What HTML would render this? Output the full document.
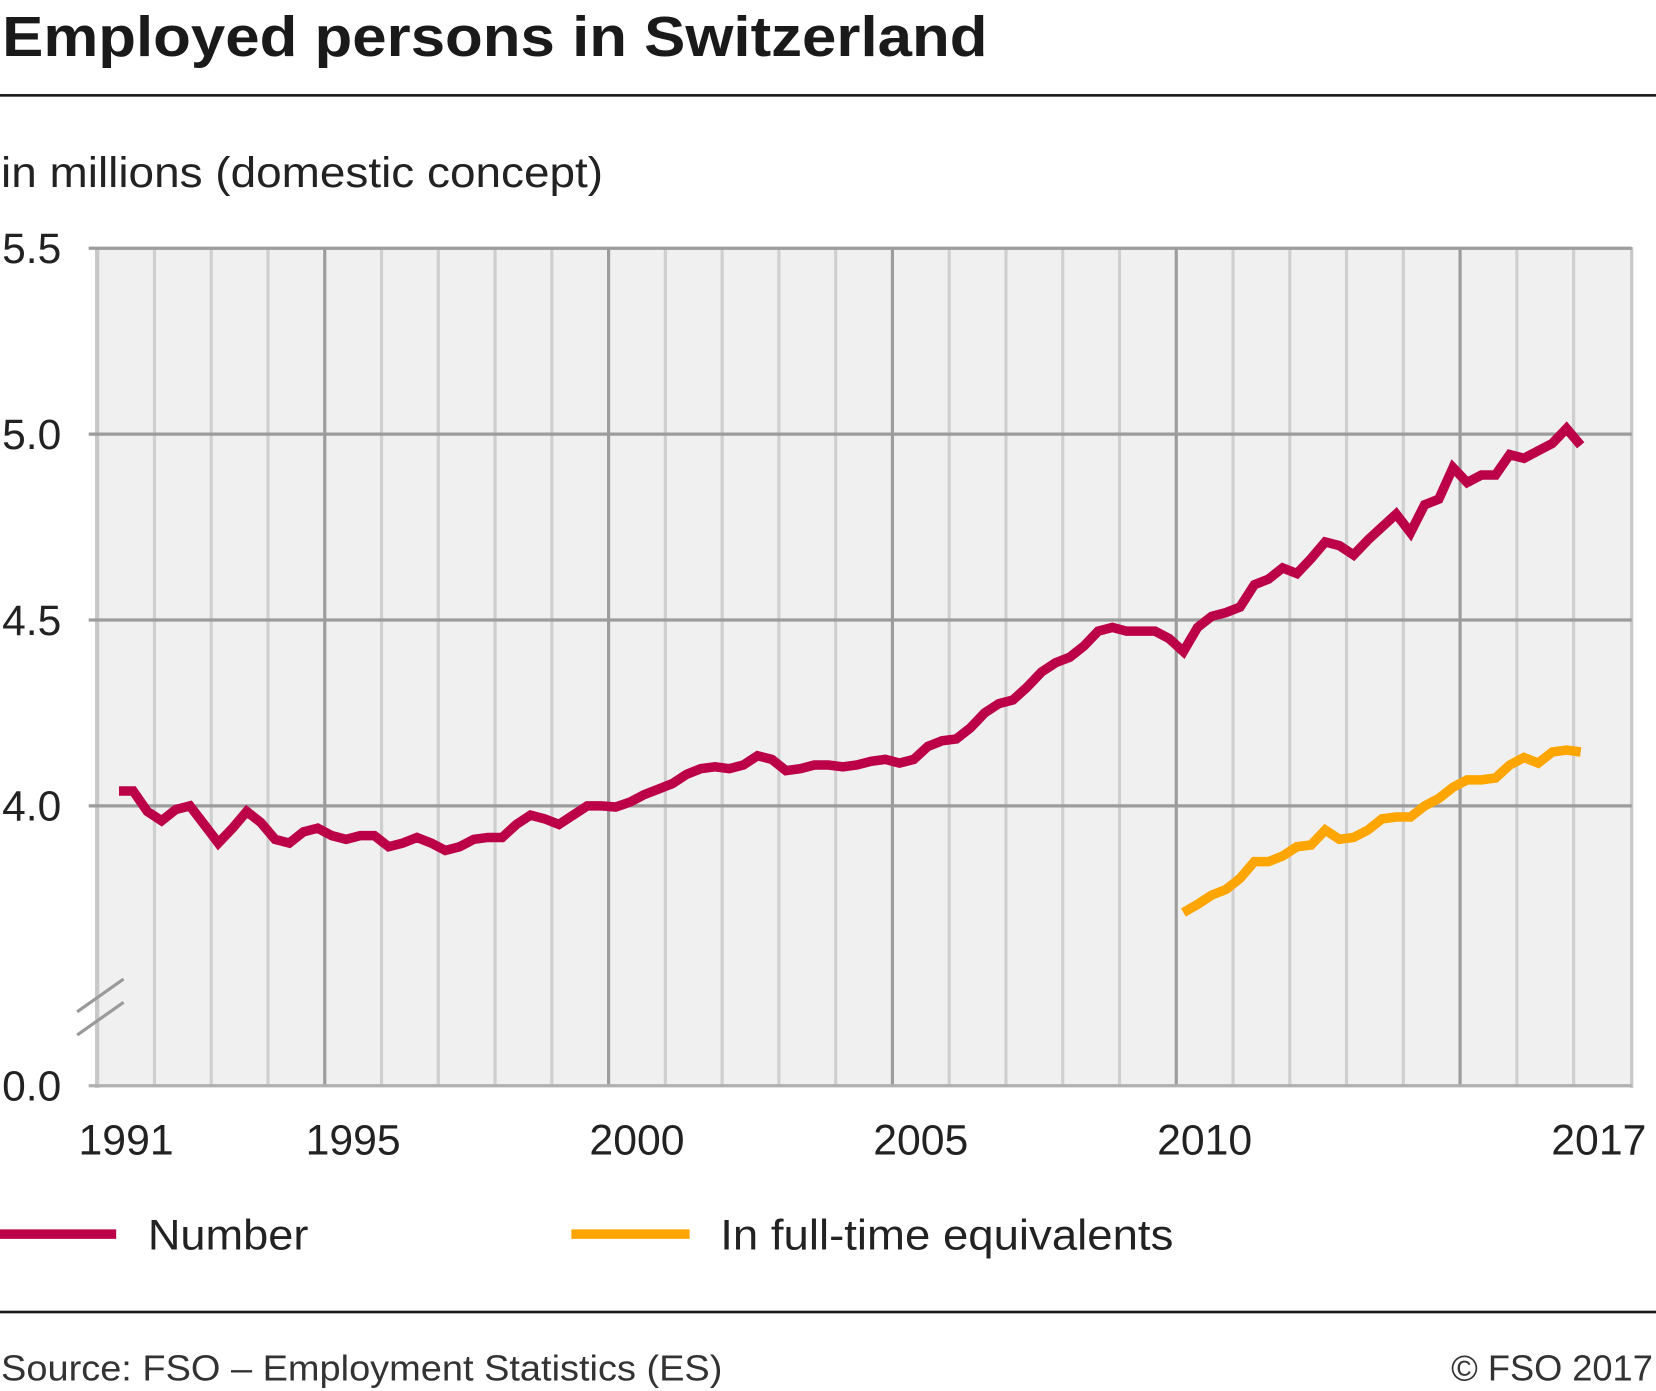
<!DOCTYPE html>
<html><head><meta charset="utf-8"><style>
html,body{margin:0;padding:0;background:#fff;}
svg{display:block;font-family:"Liberation Sans",Arial,sans-serif;}
</style></head><body>
<svg id="chart" width="1656" height="1391" viewBox="0 0 1568 1317" xmlns="http://www.w3.org/2000/svg">
<text x="2" y="53" font-size="54" font-weight="bold" fill="#1a1a1a" textLength="933" lengthAdjust="spacingAndGlyphs">Employed persons in Switzerland</text>
<rect x="0" y="89" width="1568" height="2.5" fill="#1a1a1a"/>
<text x="1" y="177" font-size="40" fill="#222" textLength="570" lengthAdjust="spacingAndGlyphs">in millions (domestic concept)</text>
<rect x="92" y="236" width="1453" height="792" fill="#f0f0f0"/>
<g id="grid"></g>
<g id="ylabels"></g>
<g id="xlabels"></g>
<g stroke="#9a9a9a" stroke-width="3">
<line x1="73" y1="958" x2="117" y2="927"/><line x1="73" y1="980" x2="117" y2="949"/>
</g>
<g id="series"></g>
<g>
<rect x="0" y="1164" width="110" height="9" fill="#bb0047"/>
<text x="140" y="1183" font-size="40" fill="#222" textLength="152" lengthAdjust="spacingAndGlyphs">Number</text>
<rect x="541" y="1164" width="112" height="9" fill="#ffa500"/>
<text x="682" y="1183" font-size="40" fill="#222" textLength="429" lengthAdjust="spacingAndGlyphs">In full-time equivalents</text>
</g>
<rect x="0" y="1241" width="1568" height="2.5" fill="#1a1a1a"/>
<text x="1" y="1307" font-size="34" fill="#333" textLength="683" lengthAdjust="spacingAndGlyphs">Source: FSO – Employment Statistics (ES)</text>
<text x="1374" y="1307" font-size="34" fill="#333" textLength="191" lengthAdjust="spacingAndGlyphs">© FSO 2017</text>
</svg>
<script>
const yTicks = [5.5, 5.0, 4.5, 4.0, 0.0];
const yTickLabels = ["5.5", "5.0", "4.5", "4.0", "0.0"];
const xTickYears = [1991, 1995, 2000, 2005, 2010, 2017];
const numberStart = 1991.25; // 1991 Q2
const numberValues = [4.04,4.04,3.985,
3.96,3.99,4.00,3.95,
3.90,3.94,3.985,3.955,
3.91,3.90,3.93,3.94,
3.92,3.91,3.92,3.92,
3.89,3.90,3.915,3.90,
3.88,3.89,3.91,3.915,
3.915,3.95,3.975,3.965,
3.95,3.975,4.00,4.00,
3.997,4.01,4.03,4.045,
4.06,4.085,4.10,4.105,
4.10,4.11,4.135,4.125,
4.095,4.10,4.11,4.11,
4.105,4.11,4.12,4.125,
4.115,4.125,4.16,4.175,
4.18,4.21,4.25,4.275,
4.285,4.32,4.36,4.385,
4.40,4.43,4.47,4.48,
4.47,4.47,4.47,4.45,
4.415,4.48,4.51,4.52,
4.535,4.595,4.61,4.64,
4.625,4.665,4.71,4.70,
4.675,4.715,4.75,4.785,
4.735,4.81,4.825,4.91,
4.87,4.89,4.89,4.945,
4.935,4.955,4.975,5.015,
4.97];
const fteStart = 2010.0;
const fteValues = [3.713,3.735,3.76,3.775,
3.805,3.85,3.85,3.865,
3.89,3.895,3.935,3.91,
3.915,3.935,3.965,3.97,
3.97,4.00,4.02,4.05,
4.07,4.07,4.075,4.11,
4.13,4.115,4.145,4.15,
4.145];

const NS = "http://www.w3.org/2000/svg";
const X0 = 92.5, PXY = 53.75;
function xScale(t){ return X0 + (t - 1991) * PXY; }
function yScale(v){ return v <= 0.001 ? 1028 : 763 - (v - 4) * 352; }
function mk(tag, attrs, parent){ const e = document.createElementNS(NS, tag); for (const k in attrs) e.setAttribute(k, attrs[k]); parent.appendChild(e); return e; }

const grid = document.getElementById('grid');
for (let yr = 1992; yr <= 2017; yr++) {
  const major = (yr % 5 === 0);
  const l = mk('line', {x1: xScale(yr), x2: xScale(yr), y1: 236, y2: 1028, stroke: major ? '#9c9c9c' : '#cfcfcf', 'stroke-width': 3}, grid);
  
  
}
const edgeL = mk('line', {x1: 92, x2: 92, y1: 234, y2: 1030, stroke: '#c8c8c8', 'stroke-width': 4}, grid);


const edgeR = mk('line', {x1: 1545, x2: 1545, y1: 234, y2: 1030, stroke: '#c8c8c8', 'stroke-width': 3}, grid);


const ylab = document.getElementById('ylabels');
yTicks.forEach((v, i) => {
  const y = yScale(v);
  const g = mk('line', {x1: 84, x2: 1545, y1: y, y2: y, stroke: v === 0 ? '#b0b0b0' : '#9c9c9c', 'stroke-width': 3}, grid);
  
  
  const t = mk('text', {x: 2, y: y + 14, 'font-size': 40, fill: '#222', textLength: 56, lengthAdjust: 'spacingAndGlyphs'}, ylab);
  
  
  t.textContent = yTickLabels[i];
});
const xlab = document.getElementById('xlabels');
xTickYears.forEach(yr => {
  const t = mk('text', {x: xScale(yr + 0.5) + (yr === 2017 ? -3 : 0), y: 1093, 'font-size': 40, fill: '#222', 'text-anchor': 'middle', textLength: 90, lengthAdjust: 'spacingAndGlyphs'}, xlab);
  
  
  t.textContent = String(yr);
});
const series = document.getElementById('series');
function drawLine(vals, start, color, name){
  const pts = vals.map((v, i) => xScale(start + (i + 0.5) / 4).toFixed(1) + ',' + yScale(v).toFixed(1)).join(' ');
  const p = mk('polyline', {points: pts, fill: 'none', stroke: color, 'stroke-width': 9, 'stroke-linejoin': 'miter', 'stroke-miterlimit': 3}, series);
  
  
}
drawLine(numberValues, numberStart, '#bb0047', 'number-line');
drawLine(fteValues, fteStart, '#ffa500', 'fte-line');
</script>
</body></html>
